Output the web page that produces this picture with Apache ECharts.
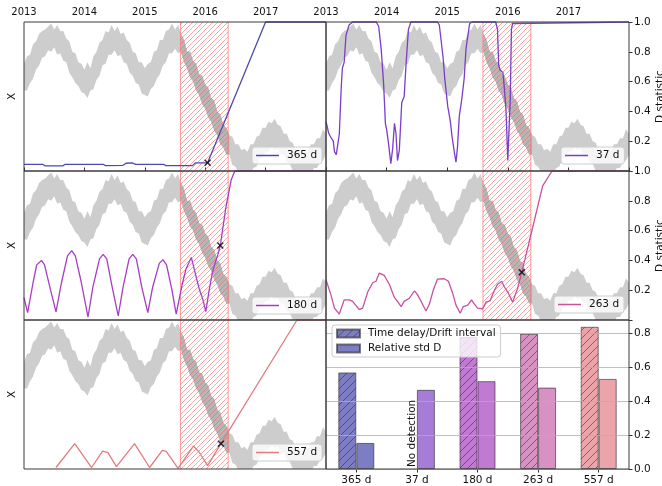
<!DOCTYPE html>
<html><head><meta charset="utf-8">
<script src="https://cdn.jsdelivr.net/npm/echarts@6/dist/echarts.min.js"></script>
<style>html,body{margin:0;padding:0;background:#fff}#c{width:662px;height:486px}</style>
</head><body><div id="c"></div>
<script>
// ---------- data ----------
const yearTicks = [2013, 2014, 2015, 2016, 2017, 2018];
const driftBand = [2015.59, 2016.38];

const grayYears = [2013.00,2013.05,2013.10,2013.15,2013.20,2013.25,2013.30,2013.35,2013.40,2013.45,
2013.50,2013.55,2013.60,2013.65,2013.70,2013.75,2013.80,2013.85,2013.90,2013.95,
2014.00,2014.05,2014.10,2014.15,2014.20,2014.25,2014.30,2014.35,2014.40,2014.45,
2014.50,2014.55,2014.60,2014.65,2014.70,2014.75,2014.80,2014.85,2014.90,2014.95,
2015.00,2015.05,2015.10,2015.15,2015.20,2015.25,2015.30,2015.35,2015.40,2015.45,
2015.50,2015.55,2015.60,2015.65,2015.70,2015.75,2015.80,2015.85,2015.90,2015.95,
2016.00,2016.05,2016.10,2016.15,2016.20,2016.25,2016.30,2016.35,2016.40,2016.45,
2016.50,2016.55,2016.60,2016.65,2016.70,2016.75,2016.80,2016.85,2016.90,2016.95,
2017.00,2017.05,2017.10,2017.15,2017.20,2017.25,2017.30,2017.35,2017.40,2017.45,
2017.50,2017.55,2017.60,2017.65,2017.70,2017.75,2017.80,2017.85,2017.90,2017.95,
2018.00];
const grayUpper = [0.72,0.77,0.78,0.85,0.87,0.92,0.94,0.95,0.97,0.99,
0.95,0.98,0.94,0.94,0.89,0.87,0.80,0.79,0.73,0.72,
0.68,0.73,0.69,0.77,0.80,0.86,0.88,0.94,0.93,0.98,
0.94,0.97,0.92,0.93,0.88,0.86,0.80,0.79,0.73,0.73,
0.69,0.72,0.73,0.80,0.81,0.88,0.88,0.94,0.95,0.99,
0.95,0.98,0.92,0.88,0.80,0.80,0.74,0.72,0.65,0.64,
0.58,0.56,0.49,0.47,0.40,0.38,0.31,0.29,0.24,0.23,
0.18,0.18,0.14,0.15,0.13,0.18,0.18,0.23,0.24,0.29,
0.29,0.33,0.32,0.35,0.31,0.30,0.25,0.25,0.20,0.19,
0.14,0.14,0.11,0.14,0.13,0.18,0.18,0.22,0.22,0.28,
0.25];
const grayLower = [0.54,0.54,0.59,0.62,0.68,0.71,0.76,0.77,0.81,0.80,
0.83,0.78,0.79,0.74,0.73,0.66,0.63,0.59,0.57,0.53,
0.52,0.49,0.54,0.55,0.61,0.64,0.71,0.72,0.78,0.78,
0.81,0.77,0.78,0.73,0.72,0.66,0.64,0.59,0.58,0.52,
0.51,0.50,0.55,0.57,0.62,0.65,0.71,0.73,0.79,0.79,
0.82,0.79,0.80,0.73,0.69,0.63,0.60,0.54,0.51,0.45,
0.42,0.36,0.33,0.27,0.24,0.18,0.16,0.11,0.11,0.04,
0.03,-0.01,-0.01,-0.04,-0.02,-0.02,0.02,0.03,0.08,0.09,
0.13,0.13,0.16,0.14,0.15,0.11,0.11,0.06,0.05,0.00,
0.00,-0.04,-0.03,-0.05,-0.02,-0.02,0.02,0.02,0.06,0.07,
0.11];

const d365 = [[2013.00,0.045],[2013.31,0.045],[2013.35,0.034],[2013.64,0.034],[2013.68,0.045],[2014.31,0.045],[2014.35,0.036],[2014.64,0.038],[2014.69,0.052],[2014.79,0.054],[2014.85,0.045],[2015.31,0.045],[2015.35,0.036],[2015.79,0.036],[2015.84,0.055],[2016.04,0.055],[2017.00,1.0],[2018.00,1.0]];
const d37 = [[2013.00,0.33],[2013.02,0.30],[2013.04,0.26],[2013.06,0.24],[2013.09,0.22],[2013.12,0.20],[2013.14,0.13],[2013.17,0.11],[2013.19,0.12],[2013.22,0.25],[2013.25,0.55],[2013.27,0.69],[2013.30,0.73],[2013.33,0.91],[2013.38,0.98],[2013.44,1.0],[2013.83,1.0],[2013.87,0.97],[2013.91,0.82],[2013.95,0.59],[2013.98,0.32],[2014.00,0.28],[2014.03,0.19],[2014.07,0.05],[2014.10,0.15],[2014.13,0.32],[2014.155,0.25],[2014.18,0.07],[2014.21,0.14],[2014.25,0.46],[2014.29,0.50],[2014.32,0.71],[2014.36,0.95],[2014.40,1.0],[2014.84,1.0],[2014.87,0.98],[2014.93,0.77],[2014.96,0.62],[2015.01,0.43],[2015.05,0.34],[2015.08,0.23],[2015.12,0.12],[2015.145,0.06],[2015.17,0.16],[2015.20,0.37],[2015.24,0.48],[2015.28,0.62],[2015.31,0.82],[2015.37,0.99],[2015.41,1.0],[2015.80,1.0],[2015.83,0.95],[2015.85,0.71],[2015.87,0.68],[2015.92,0.66],[2015.94,0.57],[2015.97,0.41],[2016.00,0.07],[2016.015,0.06],[2016.04,0.48],[2016.06,0.95],[2016.08,0.99],[2016.11,1.0],[2018.00,1.0]];
const d180 = [[2013.00,0.15],[2013.06,0.05],[2013.15,0.25],[2013.21,0.37],[2013.29,0.40],[2013.34,0.37],[2013.44,0.20],[2013.53,0.054],[2013.62,0.25],[2013.72,0.43],[2013.79,0.466],[2013.85,0.43],[2013.95,0.25],[2014.06,0.02],[2014.14,0.22],[2014.25,0.41],[2014.31,0.44],[2014.37,0.41],[2014.46,0.22],[2014.56,0.027],[2014.64,0.22],[2014.74,0.41],[2014.80,0.44],[2014.86,0.41],[2014.95,0.22],[2015.05,0.05],[2015.13,0.22],[2015.24,0.38],[2015.30,0.405],[2015.36,0.37],[2015.45,0.20],[2015.52,0.04],[2015.62,0.24],[2015.68,0.34],[2015.77,0.42],[2015.85,0.29],[2015.90,0.21],[2015.96,0.14],[2016.01,0.056],[2016.07,0.21],[2016.12,0.32],[2016.17,0.39],[2016.21,0.44],[2016.25,0.50],[2016.34,0.75],[2016.43,0.94],[2016.49,1.0],[2018.00,1.0]];
const d263 = [[2013.00,0.27],[2013.03,0.26],[2013.08,0.17],[2013.14,0.08],[2013.22,0.04],[2013.30,0.135],[2013.385,0.135],[2013.44,0.125],[2013.55,0.07],[2013.605,0.08],[2013.69,0.19],[2013.77,0.25],[2013.825,0.26],[2013.88,0.315],[2013.96,0.30],[2014.045,0.24],[2014.13,0.15],[2014.18,0.125],[2014.24,0.09],[2014.29,0.125],[2014.375,0.146],[2014.46,0.196],[2014.51,0.17],[2014.57,0.124],[2014.65,0.06],[2014.705,0.106],[2014.77,0.20],[2014.84,0.275],[2014.95,0.277],[2015.02,0.26],[2015.09,0.18],[2015.145,0.10],[2015.215,0.045],[2015.265,0.09],[2015.34,0.10],[2015.40,0.135],[2015.45,0.106],[2015.50,0.08],[2015.585,0.074],[2015.64,0.12],[2015.705,0.128],[2015.78,0.20],[2015.83,0.24],[2015.90,0.26],[2015.94,0.225],[2016.01,0.18],[2016.08,0.12],[2016.16,0.21],[2016.23,0.32],[2016.41,0.62],[2016.575,0.90],[2016.73,1.0],[2018.00,1.0]];
const d557 = [[2013.53,0.01],[2013.84,0.17],[2014.12,0.01],[2014.30,0.12],[2014.39,0.11],[2014.53,0.016],[2014.83,0.17],[2015.08,0.01],[2015.29,0.125],[2015.355,0.118],[2015.55,0.005],[2015.805,0.154],[2015.90,0.113],[2016.04,0.023],[2016.26,0.17],[2017.52,1.0],[2018.00,1.0]];

const m365 = [2016.04, 0.055];
const m180 = [2016.25, 0.50];
const m263 = [2016.23, 0.32];
const m557 = [2016.26, 0.17];

const barCats = ['365 d', '37 d', '180 d', '263 d', '557 d'];
const driftVals = [0.567, null, 0.775, 0.794, 0.835];
const stdVals = [0.153, 0.465, 0.516, 0.478, 0.529];
const barTicks = [0, 0.2, 0.4, 0.6, 0.8];

const lineColors = ['#4b4bad', '#7b3cc8', '#a83cc4', '#c8509f', '#e37b80'];
const barColors = ['#7d7dc3', '#a57dd7', '#c07ad2', '#d791c3', '#eba5aa'];

// ---------- helpers ----------
const FONT = 'DejaVu Sans';
const TXT = '#111';
function hatch(bg, line, size, lw) {
  const c = document.createElement('canvas');
  c.width = size; c.height = size;
  const g = c.getContext('2d');
  if (bg) { g.fillStyle = bg; g.fillRect(0, 0, size, size); }
  g.strokeStyle = line; g.lineWidth = lw;
  g.beginPath();
  g.moveTo(0, size); g.lineTo(size, 0);
  g.moveTo(-size, size); g.lineTo(size, -size);
  g.moveTo(0, 2 * size); g.lineTo(2 * size, 0);
  g.stroke();
  return { image: c, repeat: 'repeat' };
}
const redHatch = hatch(null, 'rgba(250,90,90,0.6)', 5, 0.9);
const redEdge = 'rgba(250,110,110,0.7)';
const barEdge = 'rgba(40,40,40,0.6)';
const xSym = 'path://M0,1.5L1.5,0L5,3.5L8.5,0L10,1.5L6.5,5L10,8.5L8.5,10L5,6.5L1.5,10L0,8.5L3.5,5Z';

function clipGroup(params, children) {
  const cs = params.coordSys;
  return { type: 'group', children: children,
    clipPath: { type: 'rect', shape: { x: cs.x, y: cs.y, width: cs.width, height: cs.height } } };
}
function bandRender(params, api) {
  const outer = [], inner = [];
  for (let i = 0; i < grayYears.length; i++) outer.push(api.coord([grayYears[i], grayUpper[i]]));
  for (let i = grayYears.length - 1; i >= 0; i--) outer.push(api.coord([grayYears[i], grayLower[i]]));
  const idx = [];
  for (let i = 0; i < grayYears.length; i++) if (grayYears[i] >= driftBand[0] && grayYears[i] <= driftBand[1] + 0.02) idx.push(i);
  idx.forEach(i => inner.push(api.coord([grayYears[i], grayUpper[i]])));
  idx.slice().reverse().forEach(i => inner.push(api.coord([grayYears[i], grayLower[i]])));
  return clipGroup(params, [
    { type: 'polygon', shape: { points: outer }, style: { fill: '#cdcdcd' } },
    { type: 'polygon', shape: { points: inner }, style: { fill: '#b6b6b6' } }
  ]);
}
function hatchRender(params, api) {
  const p0 = api.coord([driftBand[0], 1]);
  const p1 = api.coord([driftBand[1], 0]);
  return { type: 'group', children: [
    { type: 'rect', shape: { x: p0[0], y: p0[1], width: p1[0] - p0[0], height: p1[1] - p0[1] }, style: { fill: redHatch } },
    { type: 'line', shape: { x1: p0[0], y1: p0[1], x2: p0[0], y2: p1[1] }, style: { stroke: redEdge, lineWidth: 1 } },
    { type: 'line', shape: { x1: p1[0], y1: p0[1], x2: p1[0], y2: p1[1] }, style: { stroke: redEdge, lineWidth: 1 } }
  ] };
}

const panels = [
  { name: '365 d', data: d365, marker: m365, col: 0, row: 0, legend: [252, 147] },
  { name: '37 d',  data: d37,  marker: null, col: 1, row: 0, legend: [561, 147] },
  { name: '180 d', data: d180, marker: m180, col: 0, row: 1, legend: [252, 297] },
  { name: '263 d', data: d263, marker: m263, col: 1, row: 1, legend: [554, 296] },
  { name: '557 d', data: d557, marker: m557, col: 0, row: 2, legend: [252, 444] }
];
const colX = [[24, 302], [326, 303]];
const rowY = [[22, 149], [171, 149], [320, 149]];

const grids = [], xAxes = [], yAxes = [], series = [], legends = [];
const baseText = { fontFamily: FONT, color: TXT };

panels.forEach((p, i) => {
  grids.push({ left: colX[p.col][0], width: colX[p.col][1], top: rowY[p.row][0], height: rowY[p.row][1],
    show: true, borderColor: '#3a3a3a', borderWidth: 1, backgroundColor: 'transparent', z: 5,
    containLabel: false, outerBoundsMode: 'none' });
  xAxes.push({ gridIndex: i, type: 'value', min: yearTicks[0], max: yearTicks[yearTicks.length - 1], interval: 1,
    position: 'top', show: p.row === 0,
    axisLine: { show: false },
    axisTick: { show: true, length: 3.5, lineStyle: { color: '#333' } },
    axisLabel: Object.assign({ fontSize: 10, margin: 5, formatter: v => (v === 2018 ? '' : String(v)) }, baseText),
    splitLine: { show: false } });
  if (p.col === 0) {
    yAxes.push({ gridIndex: i, type: 'value', min: 0, max: 1, position: 'left',
      name: 'X', nameLocation: 'middle', nameGap: 6, nameRotate: 90,
      nameTextStyle: Object.assign({ fontSize: 10.5 }, baseText),
      axisLine: { show: false }, axisTick: { show: false }, axisLabel: { show: false }, splitLine: { show: false } });
  } else {
    yAxes.push({ gridIndex: i, type: 'value', min: 0, max: 1, interval: 0.2, position: 'right',
      name: 'D statistic', nameLocation: 'middle', nameGap: 24, nameRotate: 90,
      nameTextStyle: Object.assign({ fontSize: 10.5 }, baseText),
      axisLine: { show: false },
      axisTick: { show: true, length: 3.5, lineStyle: { color: '#333' } },
      axisLabel: Object.assign({ fontSize: 10.5, margin: 5, formatter: v => (v === 0 ? '' : v.toFixed(1)) }, baseText),
      splitLine: { show: false } });
  }
  series.push({ type: 'custom', name: 'X' + i, xAxisIndex: i, yAxisIndex: i, z: 1, silent: true, clip: true,
    renderItem: bandRender, data: [[grayYears[0], grayLower[0]]] });
  series.push({ type: 'custom', name: 'band' + i, xAxisIndex: i, yAxisIndex: i, z: 2, silent: true,
    renderItem: hatchRender, data: [[driftBand[0], 0]] });
  series.push({ type: 'line', name: p.name, xAxisIndex: i, yAxisIndex: i, z: 3, clip: false,
    data: p.data, symbol: 'none', showSymbol: false, color: lineColors[i],
    lineStyle: { color: lineColors[i], width: 1.3 } });
  if (p.marker) {
    series.push({ type: 'scatter', name: 'det' + i, xAxisIndex: i, yAxisIndex: i, z: 4, silent: true,
      symbol: xSym, symbolSize: 7, itemStyle: { color: '#000' }, data: [p.marker] });
  }
  legends.push({ left: p.legend[0], top: p.legend[1], data: [p.name], icon: 'rect', itemWidth: 23, itemHeight: 1.5,
    backgroundColor: 'rgba(255,255,255,0.8)', borderColor: '#cccccc', borderWidth: 1, borderRadius: 3,
    padding: [3, 5, 3, 4], selectedMode: false, z: 20, zlevel: 1,
    textStyle: Object.assign({ fontSize: 10.5, padding: [0, 0, 0, 3] }, baseText) });
});

// bar panel
grids.push({ left: colX[1][0], width: colX[1][1], top: rowY[2][0], height: rowY[2][1],
  show: true, borderColor: '#3a3a3a', borderWidth: 1, backgroundColor: 'transparent', z: 5,
  containLabel: false, outerBoundsMode: 'none' });
xAxes.push({ gridIndex: 5, type: 'category', data: barCats, position: 'bottom',
  axisLine: { show: false },
  axisTick: { show: true, alignWithLabel: true, length: 3.5, lineStyle: { color: '#333' } },
  axisLabel: Object.assign({ fontSize: 10.5, margin: 6 }, baseText),
  splitLine: { show: false } });
const isTick = v => barTicks.some(t => Math.abs(t - v) < 1e-6);
yAxes.push({ gridIndex: 5, type: 'value', min: 0, max: 0.875, interval: 0.2, position: 'right', z: 3,
  axisLine: { show: false },
  axisTick: { show: true, length: 3.5, customValues: barTicks, lineStyle: { color: '#333' } },
  axisLabel: Object.assign({ fontSize: 10.5, margin: 5, customValues: barTicks,
    formatter: v => (isTick(v) ? v.toFixed(1) : '') }, baseText),
  splitLine: { show: true, lineStyle: { color: '#b0b0b0', width: 0.8 } } });
const hatchFills = barColors.map(c => hatch(c, 'rgba(30,30,30,0.55)', 8, 0.9));
series.push({ type: 'bar', name: 'Time delay/Drift interval', xAxisIndex: 5, yAxisIndex: 5, z: 2,
  barWidth: 18, barGap: '0%',
  itemStyle: { color: hatchFills[0], borderColor: barEdge, borderWidth: 1 },
  data: driftVals.map((v, i) => (v == null ? '-' : { value: v, itemStyle: { color: hatchFills[i] } })) });
series.push({ type: 'bar', name: 'Relative std D', xAxisIndex: 5, yAxisIndex: 5, z: 2,
  barWidth: 18, barGap: '0%',
  itemStyle: { color: barColors[0], borderColor: barEdge, borderWidth: 1 },
  data: stdVals.map((v, i) => ({ value: v, itemStyle: { color: barColors[i] } })) });
legends.push({ left: 332, top: 325, orient: 'vertical', data: ['Time delay/Drift interval', 'Relative std D'],
  icon: 'rect', itemWidth: 23, itemHeight: 8, itemGap: 4,
  backgroundColor: 'rgba(255,255,255,0.8)', borderColor: '#cccccc', borderWidth: 1, borderRadius: 3,
  padding: [3, 5, 3, 4], selectedMode: false, z: 20, zlevel: 1,
  textStyle: Object.assign({ fontSize: 10.5, padding: [0, 0, 0, 3] }, baseText) });

const chart = echarts.init(document.getElementById('c'), null, { renderer: 'canvas' });
chart.setOption({ animation: false, backgroundColor: '#fff', grid: grids, xAxis: xAxes, yAxis: yAxes, series: series, legend: legends });

// "No detection" note anchored to the 37 d slot of the bar axis
const px = chart.convertToPixel({ xAxisIndex: 5, yAxisIndex: 5 }, ['37 d', 0]);
chart.setOption({ graphic: [{ type: 'text', x: px[0] - 5, y: px[1] - 2, rotation: Math.PI / 2, z: 10,
  style: { text: 'No detection', font: '10.5px "DejaVu Sans"', fill: TXT, align: 'left', verticalAlign: 'middle' } }] });
</script></body></html>
